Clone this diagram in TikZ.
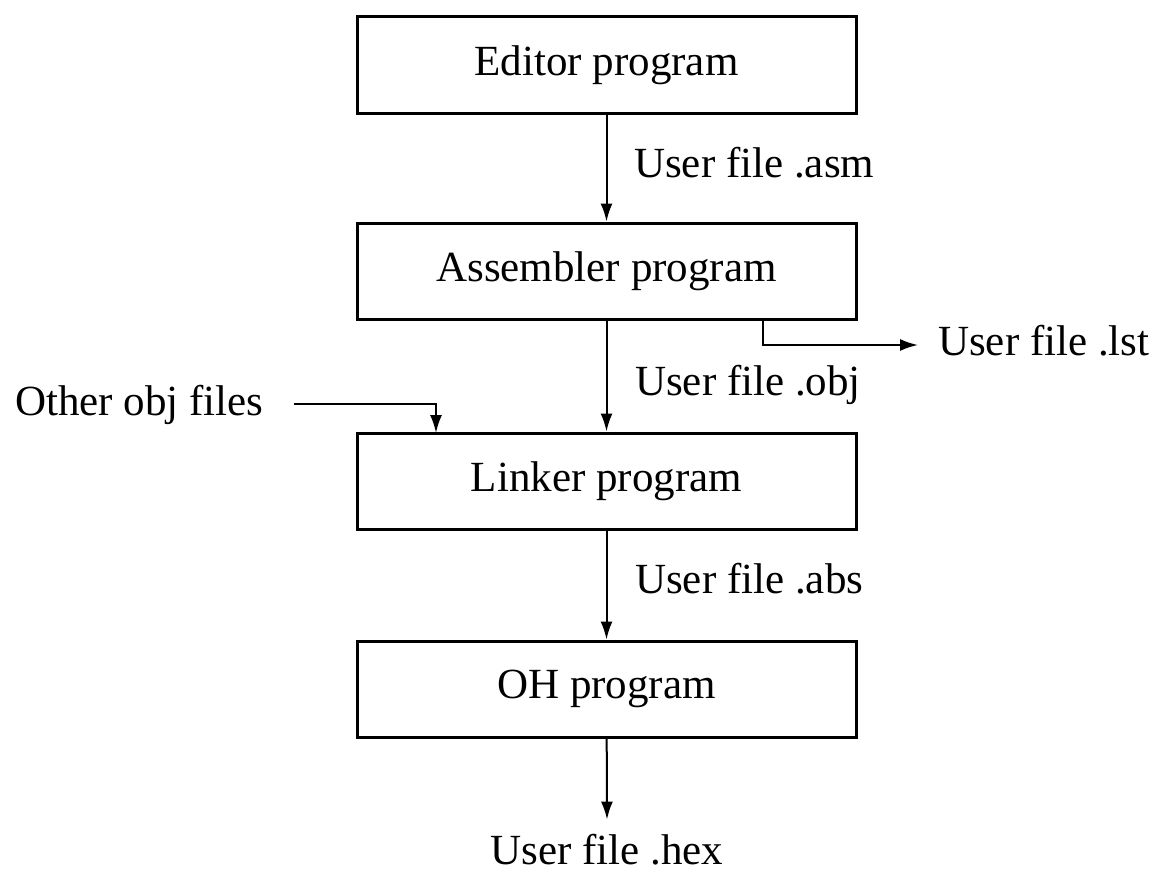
\documentclass[tikz,border=0pt]{standalone}
\usepackage{fontspec}
\setmainfont{Liberation Serif}
\usetikzlibrary{arrows.meta}
\begin{document}
\begin{tikzpicture}[x=1pt,y=-1pt,
  every node/.style={font=\fontsize{43}{50}\selectfont},
  box/.style={draw, line width=3pt, minimum width=499pt, minimum height=96pt, inner sep=0pt},
  lbl/.style={anchor=base west, inner sep=0pt},
  conn/.style={line width=2pt, -{Latex[length=18pt,width=12pt]}}]
\useasboundingbox (0,0) rectangle (1158,875);
\node[box] (ed) at (606.5,65) {Editor program};
\node[box] (as) at (606.5,271) {Assembler program};
\node[box] (lk) at (606.5,481) {Linker program};
\node[box] (oh) at (606.5,689) {OH program};
\node[lbl] (lasm) at (634,177) {User file .asm};
\node[lbl] (lobj) at (635,395) {User file .obj};
\node[lbl] (labs) at (635,593) {User file .abs};
\node[lbl, inner xsep=20pt] (lst) at (918,355) {User file .lst};
\node[lbl] (oth) at (15,415) {Other obj files};
\node[anchor=base, inner sep=0pt] (hex) at (607,864) {User file .hex};
\coordinate (b1) at (763,345);
\coordinate (oc) at (436,433);
\draw[conn] (ed) -- (as);
\draw[conn] (as) -- (lk);
\draw[conn] (lk) -- (oh);
\draw[conn] (oh) -- ([yshift=14pt]hex.north);
\draw[conn] (as.south -| b1) -- (b1) -- (lst.west |- b1);
\draw[conn] ([xshift=30pt]oth.east) -| (oc);
\end{tikzpicture}
\end{document}
